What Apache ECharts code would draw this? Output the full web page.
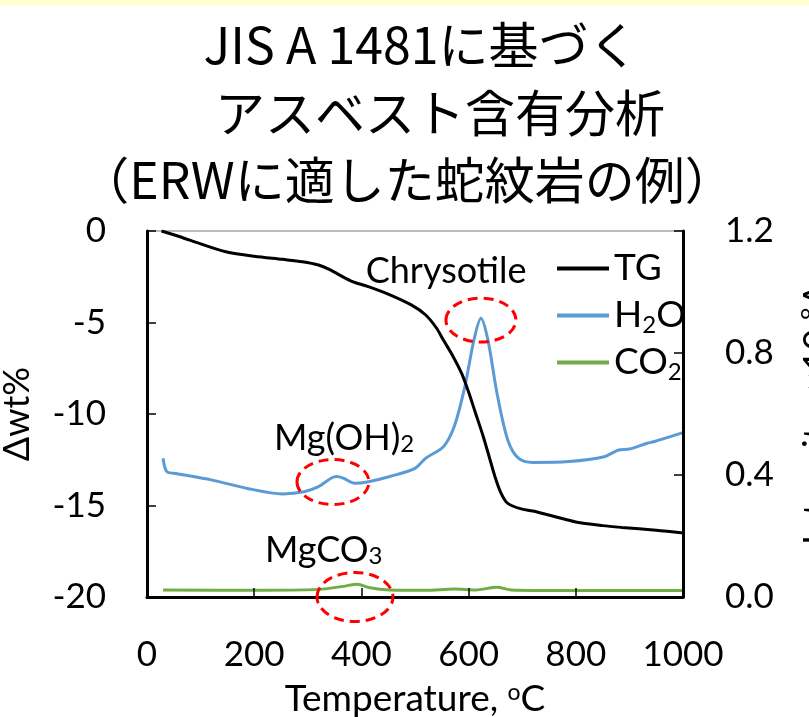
<!DOCTYPE html>
<html><head><meta charset="utf-8">
<script src="https://cdn.jsdelivr.net/npm/echarts@6/dist/echarts.min.js"></script>
<style>html,body{margin:0;padding:0;background:#fff;overflow:hidden}#c{width:809px;height:717px}</style>
</head><body><div id="c"></div>
<script>
// ---- data ----
const titleLines = ['JIS A 1481に基づく', 'アスベスト含有分析', '（ERWに適した蛇紋岩の例）'];
const xTicks = [0, 200, 400, 600, 800, 1000];
const leftTicks = [-20, -15, -10, -5, 0];
const rightTicks = ['0.0', '0.4', '0.8', '1.2'];
const seriesNames = ['TG', 'H2O', 'CO2'];

const tgTemp = [27, 60, 100, 147, 200, 253, 290, 320, 340, 380, 413, 450, 493, 520, 540, 553, 570, 587, 600, 613, 627, 640, 650, 660, 670, 680, 700, 720, 760, 800, 850, 886, 950, 1000];
const tgVal  = [0, -0.3, -0.7, -1.13, -1.38, -1.55, -1.68, -1.86, -2.1, -2.72, -3.04, -3.45, -4.04, -4.59, -5.3, -5.96, -6.8, -7.78, -8.8, -9.96, -11.2, -12.5, -13.5, -14.3, -14.8, -15.0, -15.2, -15.3, -15.6, -15.9, -16.1, -16.2, -16.35, -16.5];

const h2oTemp = [30, 37, 54, 120, 187, 253, 293, 320, 353, 366, 387, 413, 453, 500, 520, 553, 573, 593, 610, 623, 636, 653, 673, 693, 720, 787, 853, 880, 900, 933, 947, 1000];
const h2oVal  = [0.455, 0.411, 0.405, 0.384, 0.356, 0.338, 0.345, 0.362, 0.395, 0.39, 0.373, 0.378, 0.395, 0.422, 0.455, 0.493, 0.558, 0.69, 0.843, 0.914, 0.843, 0.668, 0.515, 0.455, 0.441, 0.444, 0.46, 0.482, 0.485, 0.504, 0.51, 0.539];

const co2Temp = [30, 200, 320, 363, 393, 413, 453, 520, 573, 613, 653, 680, 787, 1000];
const co2Val  = [0.023, 0.022, 0.025, 0.034, 0.042, 0.031, 0.023, 0.022, 0.026, 0.023, 0.032, 0.023, 0.021, 0.021];

// annotations (data coords on x / right axis)
const annoLabels = ['Chrysotile', 'Mg(OH){s|2}', 'MgCO{s|3}'];
const annoTemp = [558, 237, 220];
const annoInt  = [1.066, 0.521, 0.154];
const ringTemp = [623, 347, 388];
const ringInt  = [0.908, 0.377, 0.0];

const zip = (a, b) => a.map((v, i) => [v, b[i]]);
const latin = 'Lato, Carlito, "Liberation Sans", sans-serif';

const chart = echarts.init(document.getElementById('c'));
const sub = { fontSize: 24, fontFamily: latin, color: '#000', verticalAlign: 'bottom' };
const supS = { fontSize: 23, fontFamily: latin, color: '#000', verticalAlign: 'top' };

chart.setOption({
  backgroundColor: '#fff',
  animation: false,
  grid: { left: 147, right: 126, top: 231, bottom: 120, containLabel: false, outerBoundsMode: 'none' },
  legend: {
    orient: 'vertical', left: 552, top: 242,
    itemWidth: 52, itemHeight: 14, itemGap: 4,
    icon: 'path://M0,5 L52,5 L52,9 L0,9 Z',
    data: seriesNames,
    formatter: n => n === 'H2O' ? 'H{s|2}O' : (n === 'CO2' ? 'CO{s|2}' : n),
    textStyle: { fontFamily: latin, fontSize: 37, color: '#000', lineHeight: 43, rich: { s: sub } }
  },
  xAxis: [{
    type: 'value', min: 0, max: 1000, interval: 200, position: 'bottom',
    name: 'Temperature, {sup|o}C', nameLocation: 'middle', nameGap: 84,
    nameTextStyle: { fontFamily: latin, fontSize: 37, color: '#000', rich: { sup: supS } },
    axisLine: { onZero: false, lineStyle: { color: '#000', width: 3 } },
    axisTick: { inside: true, length: 9, lineStyle: { color: '#000', width: 1.5 } },
    axisLabel: { fontFamily: latin, fontSize: 35, color: '#000', margin: 40, formatter: v => xTicks.includes(v) ? String(v) : '' },
    splitLine: { show: false }, z: 5
  }, {
    type: 'value', min: 0, max: 1000, position: 'top',
    axisLine: { onZero: false, lineStyle: { color: '#a6a6a6', width: 1.5 } },
    axisTick: { show: false }, axisLabel: { show: false }, splitLine: { show: false }
  }],
  yAxis: [{
    type: 'value', min: -20, max: 0, interval: 5, position: 'left',
    name: 'Δwt%', nameLocation: 'middle', nameGap: 112, nameRotate: 90,
    nameTextStyle: { fontFamily: latin, fontSize: 36, color: '#000' },
    axisLine: { show: true, onZero: false, lineStyle: { color: '#000', width: 3 } },
    axisTick: { show: true, inside: true, length: 9, lineStyle: { color: '#000', width: 1.5 } },
    axisLabel: { fontFamily: latin, fontSize: 35, color: '#000', margin: 41, formatter: v => leftTicks.includes(v) ? String(v) : '' },
    splitLine: { show: false }, z: 5
  }, {
    type: 'value', min: 0, max: 1.2, interval: 0.4, position: 'right',
    name: 'Intensity, ×10{sup|-8}A', nameLocation: 'middle', nameGap: 116, nameRotate: 90,
    nameTextStyle: { fontFamily: latin, fontSize: 36, color: '#000', rich: { sup: supS } },
    axisLine: { show: true, onZero: false, lineStyle: { color: '#000', width: 3 } },
    axisTick: { show: true, inside: true, length: 9, lineStyle: { color: '#000', width: 1.5 } },
    axisLabel: { fontFamily: latin, fontSize: 35, color: '#000', margin: 42, formatter: v => rightTicks[Math.round(v / 0.4)] || '' },
    splitLine: { show: false }, z: 5
  }],
  series: [
    { name: 'TG', type: 'line', yAxisIndex: 0, data: zip(tgTemp, tgVal), symbol: 'none', smooth: 0.3, lineStyle: { color: '#000', width: 3 }, itemStyle: { color: '#000' }, z: 3 },
    { name: 'H2O', type: 'line', yAxisIndex: 1, data: zip(h2oTemp, h2oVal), symbol: 'none', smooth: 0.3, lineStyle: { color: '#5B9BD5', width: 3 }, itemStyle: { color: '#5B9BD5' }, z: 2 },
    { name: 'CO2', type: 'line', yAxisIndex: 1, data: zip(co2Temp, co2Val), symbol: 'none', smooth: 0.3, lineStyle: { color: '#70AD47', width: 3 }, itemStyle: { color: '#70AD47' }, z: 2 }
  ]
});

function buildGraphics() {
  const g = [];
  g.push({ type: 'rect', shape: { x: 0, y: 0, width: 809, height: 5 }, style: { fill: '#FFFFCC' }, silent: true });
  const titleX = [421, 440, 407];
  const titleY = [45, 113, 180];
  titleLines.forEach((t, i) => g.push({
    type: 'text', x: titleX[i], y: titleY[i], silent: true,
    style: { text: t, align: 'center', verticalAlign: 'middle', font: '50px "Noto Sans CJK JP"', fill: '#000' }
  }));
  annoLabels.forEach((t, i) => {
    const p = chart.convertToPixel({ xAxisIndex: 0, yAxisIndex: 1 }, [annoTemp[i], annoInt[i]]);
    g.push({ type: 'text', x: p[0], y: p[1], z: 10, silent: true,
      style: { text: t, align: i === 0 ? 'center' : 'left', verticalAlign: 'middle', fontFamily: latin, fontSize: 36, fill: '#000',
        rich: { s: sub } } });
  });
  ringTemp.forEach((tv, i) => {
    const p = chart.convertToPixel({ xAxisIndex: 0, yAxisIndex: 1 }, [tv, ringInt[i]]);
    const rx = [35, 36, 38][i], ry = [22, 22.5, 24.5][i];
    g.push({ type: 'ellipse', z: 10, silent: true, shape: { cx: p[0], cy: p[1], rx: rx, ry: ry },
      style: { fill: 'none', stroke: '#FF0000', lineWidth: 3, lineDash: [10, 6] } });
  });
  chart.setOption({ graphic: g });
}
buildGraphics();
</script>
</body></html>
